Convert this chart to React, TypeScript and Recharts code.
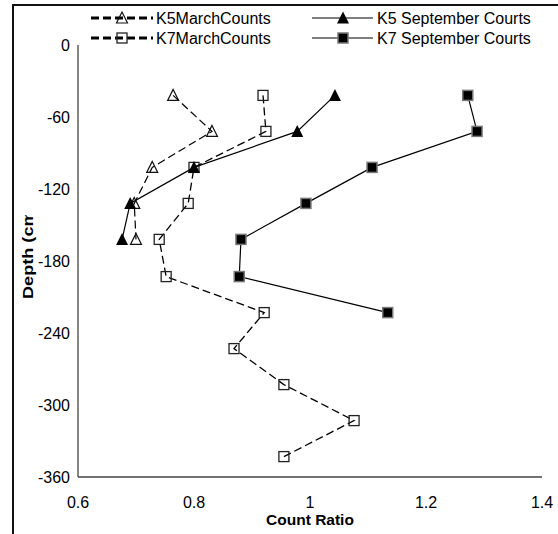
import { ScatterChart, Scatter, XAxis, YAxis, Legend } from "recharts";

// depth of each sample (cm, negative = below surface)
const depths = [-42, -72, -102, -132, -162, -193, -223, -253, -283, -313, -343];

const k5MarchCounts = [0.764, 0.831, 0.728, 0.697, 0.7];
const k5SeptCounts = [1.043, 0.978, 0.8, 0.69, 0.676];
const k7MarchCounts = [0.919, 0.924, 0.8, 0.79, 0.74, 0.752, 0.921, 0.869, 0.955, 1.076, 0.955];
const k7SeptCounts = [1.272, 1.288, 1.107, 0.993, 0.881, 0.878, 1.134];

const xTicks = [0.6, 0.8, 1, 1.2, 1.4];
const yTicks = [0, -60, -120, -180, -240, -300, -360];

const FONT = "'Liberation Sans', Arial, sans-serif";

const toPoints = (values: number[]) => values.map((v, i) => ({ x: v, y: depths[i] }));

const OpenTriangle = ({ cx, cy }: any) => (
  <polygon
    points={`${cx},${cy - 6} ${cx + 5.5},${cy + 5} ${cx - 5.5},${cy + 5}`}
    fill="none"
    stroke="#111"
    strokeWidth={1.2}
  />
);

const FilledTriangle = ({ cx, cy }: any) => (
  <polygon points={`${cx},${cy - 6.5} ${cx + 6},${cy + 5.5} ${cx - 6},${cy + 5.5}`} fill="#000" />
);

const OpenSquare = ({ cx, cy }: any) => (
  <rect x={cx - 5} y={cy - 5} width={10} height={10} fill="none" stroke="#222" strokeWidth={1.3} />
);

const FilledSquare = ({ cx, cy }: any) => (
  <rect x={cx - 5} y={cy - 5} width={10} height={10} fill="#000" stroke="#777" strokeWidth={1.5} />
);

const renderLegend = () => {
  const rows = [
    { y: 18, dashed: true, Marker: OpenTriangle, x0: 91, x1: 153, mx: 122, tx: 156, name: "K5MarchCounts" },
    { y: 38, dashed: true, Marker: OpenSquare, x0: 91, x1: 153, mx: 122, tx: 156, name: "K7MarchCounts" },
    { y: 18, dashed: false, Marker: FilledTriangle, x0: 312, x1: 373, mx: 343, tx: 377, name: "K5 September Courts" },
    { y: 38, dashed: false, Marker: FilledSquare, x0: 312, x1: 373, mx: 343, tx: 377, name: "K7 September Courts" },
  ];
  return (
    <svg width={558} height={48}>
      {rows.map((r) => (
        <g key={r.name}>
          <line
            x1={r.x0}
            x2={r.x1}
            y1={r.y}
            y2={r.y}
            stroke="#000"
            strokeWidth={r.dashed ? 3 : 1.2}
            strokeDasharray={r.dashed ? "8 4" : undefined}
          />
          <r.Marker cx={r.mx} cy={r.y} />
          <text x={r.tx} y={r.y} dy="0.355em" fontSize={16} fontFamily={FONT} fill="#000">
            {r.name}
          </text>
        </g>
      ))}
    </svg>
  );
};

const DepthLabel = () => (
  <g>
    <defs>
      <clipPath id="depthClip">
        <rect x={0} y={215} width={78} height={300} />
      </clipPath>
    </defs>
    <g clipPath="url(#depthClip)">
      <text
        transform="translate(33,299) rotate(-90) scale(1.25,1)"
        fontSize={14.5}
        fontWeight="bold"
        fontFamily={FONT}
        fill="#000"
      >
        Depth (cm)
      </text>
    </g>
  </g>
);

export default function App() {
  const tick = { fontSize: 16, fontFamily: FONT, fill: "#000" };
  return (
    <div
      style={{
        position: "absolute",
        left: 0,
        top: 0,
        width: 558,
        height: 534,
        overflow: "hidden",
        background: "#fff",
      }}
    >
      <ScatterChart width={558} height={534} margin={{ top: 45, right: 16, left: 0, bottom: 0 }}>
        <XAxis
          type="number"
          dataKey="x"
          domain={[0.6, 1.4]}
          ticks={xTicks}
          tickLine={false}
          tickMargin={14}
          height={57}
          axisLine={{ stroke: "#444", strokeWidth: 1.3 }}
          tick={tick}
          label={{
            value: "Count Ratio",
            position: "insideBottom",
            offset: 9,
            fontSize: 15.5,
            fontWeight: "bold",
            fontFamily: FONT,
            fill: "#000",
          }}
        />
        <YAxis
          type="number"
          dataKey="y"
          domain={[-360, 0]}
          ticks={yTicks}
          tickLine={false}
          width={78}
          axisLine={{ stroke: "#444", strokeWidth: 1.3 }}
          tick={tick}
          label={<DepthLabel />}
        />
        <Legend
          content={renderLegend}
          layout="horizontal"
          verticalAlign="middle"
          align="center"
          wrapperStyle={{ position: "absolute", left: 0, top: 0, width: 558, height: 48 }}
        />
        <Scatter
          name="K5MarchCounts"
          data={toPoints(k5MarchCounts)}
          line={{ stroke: "#000", strokeWidth: 1.2, strokeDasharray: "8 4" }}
          shape={OpenTriangle}
          isAnimationActive={false}
        />
        <Scatter
          name="K7MarchCounts"
          data={toPoints(k7MarchCounts)}
          line={{ stroke: "#000", strokeWidth: 1.3, strokeDasharray: "8 4" }}
          shape={OpenSquare}
          isAnimationActive={false}
        />
        <Scatter
          name="K5 September Courts"
          data={toPoints(k5SeptCounts)}
          line={{ stroke: "#000", strokeWidth: 1.2 }}
          shape={FilledTriangle}
          isAnimationActive={false}
        />
        <Scatter
          name="K7 September Courts"
          data={toPoints(k7SeptCounts)}
          line={{ stroke: "#000", strokeWidth: 1.2 }}
          shape={FilledSquare}
          isAnimationActive={false}
        />
      </ScatterChart>
      <div
        style={{
          position: "absolute",
          left: 12,
          top: 4,
          width: 600,
          height: 600,
          borderLeft: "2px solid #111",
          borderTop: "2px solid #111",
          pointerEvents: "none",
        }}
      />
    </div>
  );
}
